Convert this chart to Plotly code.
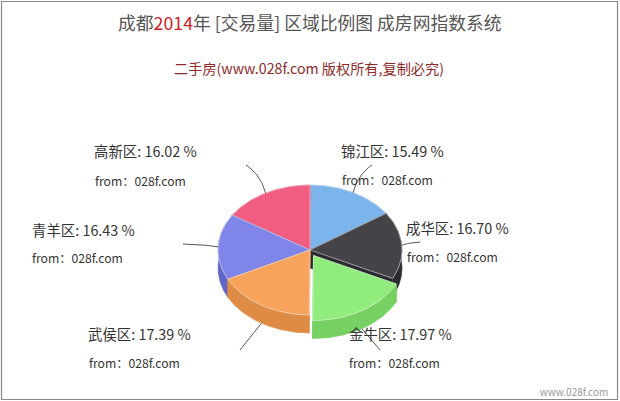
import math
import plotly.graph_objects as go

names = ["锦江区", "成华区", "金牛区", "武侯区", "青羊区", "高新区"]
values = [15.49, 16.70, 17.97, 17.39, 16.43, 16.02]
top_colors = ["#7cb5ec", "#434348", "#90ed7d", "#f7a35c", "#8085e9", "#f15c80"]
side_colors = ["#5f97ce", "#2a2a30", "#76d162", "#de8b45", "#5f65c9", "#d3426a"]
exploded = [False, False, True, False, False, False]

CX, CY, RX, RY, DEPTH = 310, 250, 92, 65, 18
EXPLODE = (3.5, 5.5)
FONT = "Noto Sans CJK SC, Noto Sans, sans-serif"
label_pos = [(340, 150), (405, 227), (348, 333), (87, 333), (31, 229), (93, 150)]
from_pos = [(341, 180), (406, 257), (348, 363), (88, 363), (31, 258), (94, 181)]
conn_end = [(372, 165), (420, 242), (380, 350), (240, 350), (183, 244), (246, 165)]

fig = go.Figure()


def pt(angle, dx=0, dy=0):
    return CX + dx + RX * math.sin(angle), CY + dy - RY * math.cos(angle)


def poly(pts, color, line=None, width=0.6):
    fig.add_trace(go.Scatter(
        x=[p[0] for p in pts] + [pts[0][0]], y=[p[1] for p in pts] + [pts[0][1]],
        mode="lines", fill="toself", fillcolor=color,
        line=dict(color=line or color, width=width), hoverinfo="skip", showlegend=False))


total = sum(values)
slices = []
acc = 0
for i, v in enumerate(values):
    a0 = acc / total * 2 * math.pi
    acc += v
    a1 = acc / total * 2 * math.pi
    off = EXPLODE if exploded[i] else (0, 0)
    slices.append((a0, a1, off))

for i in [0, 5, 4, 1, 3, 2]:
    a0, a1, (dx, dy) = slices[i]
    arc = [a0 + (a1 - a0) * k / 60 for k in range(61)]
    center = (CX + dx, CY + dy)
    front = [pt(a, dx, dy) for a in arc]
    for a in (a0, a1):
        e = pt(a, dx, dy)
        poly([center, e, (e[0], e[1] + DEPTH), (center[0], center[1] + DEPTH)], side_colors[i])
    poly(front + [(x, y + DEPTH) for x, y in reversed(front)], side_colors[i])
    poly([center] + front, top_colors[i], line="#f4f4f4", width=0.5)

for i in range(6):
    a0, a1, (dx, dy) = slices[i]
    mid = (a0 + a1) / 2
    sx, sy = pt(mid, dx, dy)
    if math.cos(mid) < -0.5:
        sy += DEPTH
    ex, ey = conn_end[i]
    cx = sx + (ex - sx) * (0.25 if math.cos(mid) > 0 else 0.55)
    cy = sy + (ey - sy) * (0.65 if math.cos(mid) > 0 else 0.55)
    ts = [k / 16 for k in range(17)]
    fig.add_trace(go.Scatter(
        x=[(1 - t) ** 2 * sx + 2 * t * (1 - t) * cx + t * t * ex for t in ts],
        y=[(1 - t) ** 2 * sy + 2 * t * (1 - t) * cy + t * t * ey for t in ts],
        mode="lines", line=dict(color="#555555", width=1), hoverinfo="skip", showlegend=False))

fig.add_trace(go.Scatter(
    x=[574], y=[393], mode="text", text=["www.028f.com"],
    textfont=dict(family=FONT, size=10, color="#999999"), hoverinfo="skip", showlegend=False))

ann = [
    dict(x=310, y=22, xanchor="center",
         text='成都<span style="color:#d0202a">2014</span>年 [交易量] 区域比例图 成房网指数系统',
         font=dict(family=FONT, size=17.8, color="#555555")),
    dict(x=308.5, y=68, xanchor="center",
         text="二手房(www.028f.com 版权所有,复制必究)",
         font=dict(family=FONT, size=14.2, color="#8f2a2a")),
]
for i in range(6):
    ann.append(dict(x=label_pos[i][0], y=label_pos[i][1], xanchor="left",
                    text=f"{names[i]}: {values[i]:.2f} %",
                    font=dict(family=FONT, size=14.4, color="#333333")))
    ann.append(dict(x=from_pos[i][0], y=from_pos[i][1], xanchor="left",
                    text="from：028f.com",
                    font=dict(family=FONT, size=12.2, color="#333333")))
for a in ann:
    a.update(xref="x", yref="y", showarrow=False, yanchor="middle", borderpad=0)

fig.update_layout(
    width=620, height=401, margin=dict(l=0, r=0, t=0, b=0),
    paper_bgcolor="white", plot_bgcolor="white", showlegend=False,
    xaxis=dict(range=[0, 620], visible=False, fixedrange=True),
    yaxis=dict(range=[401, 0], visible=False, fixedrange=True),
    annotations=ann,
    shapes=[
        dict(type="rect", x0=1.5, x1=617.5, y0=1.5, y1=399.5, layer="above",
             line=dict(color="#888888", width=1.2)),
    ],
)
fig.write_html("out.html", config=dict(displayModeBar=False),
               post_script="document.body.style.margin='0';document.documentElement.style.overflow='hidden';")
